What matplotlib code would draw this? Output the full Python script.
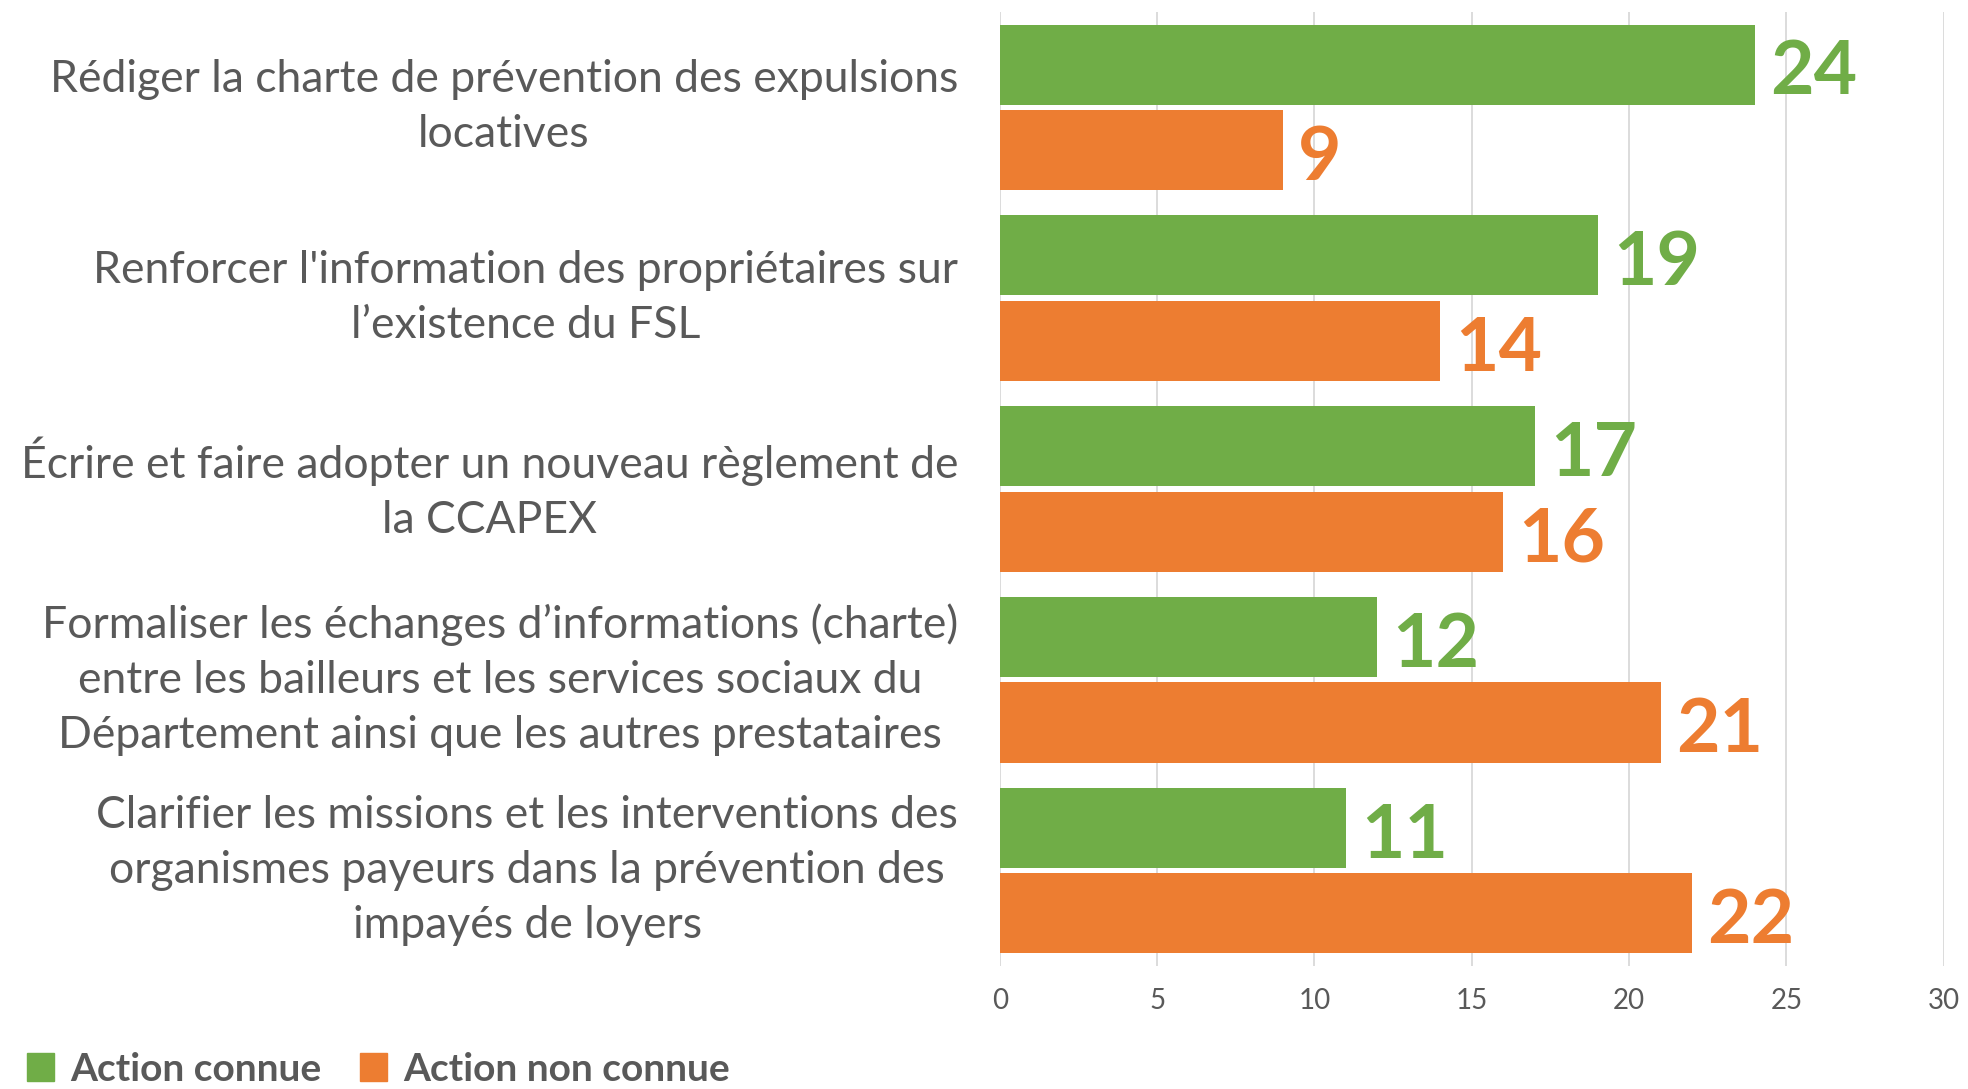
import matplotlib.pyplot as plt
from matplotlib.patches import Patch
import numpy as np

categories = [
    "Rédiger la charte de prévention des expulsions\nlocatives",
    "Renforcer l'information des propriétaires sur\nl’existence du FSL",
    "Écrire et faire adopter un nouveau règlement de\nla CCAPEX",
    "Formaliser les échanges d’informations (charte)\nentre les bailleurs et les services sociaux du\nDépartement ainsi que les autres prestataires",
    "Clarifier les missions et les interventions des\norganismes payeurs dans la prévention des\nimpayés de loyers",
]
connue = [24, 19, 17, 12, 11]
non_connue = [9, 14, 16, 21, 22]
x_ticks = [0, 5, 10, 15, 20, 25, 30]

GREEN = '#70AD47'
ORANGE = '#ED7D31'
GREY = '#595959'

plt.rcParams['font.family'] = ['Lato', 'DejaVu Sans']

fig = plt.figure(figsize=(19.68, 10.89), dpi=100)
ax = fig.add_axes([0.508, 0.113, 0.4797, 0.876])

y = np.arange(len(categories))
h = 0.42
off = 0.224

b1 = ax.barh(y - off, connue, height=h, color=GREEN)
b2 = ax.barh(y + off, non_connue, height=h, color=ORANGE)

# value labels next to each bar
for bars, vals, col in [(b1, connue, GREEN), (b2, non_connue, ORANGE)]:
    for bar, v in zip(bars, vals):
        ax.annotate(str(v), (v, bar.get_y() + bar.get_height() / 2),
                    xytext=(11, -6), textcoords='offset points',
                    ha='left', va='center', fontsize=54, fontweight='bold', color=col)

ax.set_xlim(0, 30)
ax.set_ylim(len(categories) - 0.5, -0.5)
ax.set_xticks(x_ticks)
ax.set_yticks([])
ax.tick_params(axis='x', length=0, pad=16, labelsize=20, labelcolor=GREY)
ax.grid(axis='x', color='#D9D9D9', linewidth=1.3)
ax.set_axisbelow(True)
for s in ax.spines.values():
    s.set_visible(False)

# category labels, centred lines, block right-aligned
for yi, label in zip(y, categories):
    ax.text(-0.044, yi, label, transform=ax.get_yaxis_transform(),
            ha='right', va='center', multialignment='center',
            fontsize=32, color=GREY, linespacing=1.42)

handles = [Patch(color=GREEN, label='Action connue'),
           Patch(color=ORANGE, label='Action non connue')]
fig.legend(handles=handles, loc='lower left', bbox_to_anchor=(-0.004, -0.03),
           ncol=2, frameon=False, handlelength=0.7, handleheight=0.7,
           handletextpad=0.4, columnspacing=1.0,
           prop={'size': 28, 'weight': 'bold'}, labelcolor=GREY)

fig.savefig('out.png', dpi=100)
